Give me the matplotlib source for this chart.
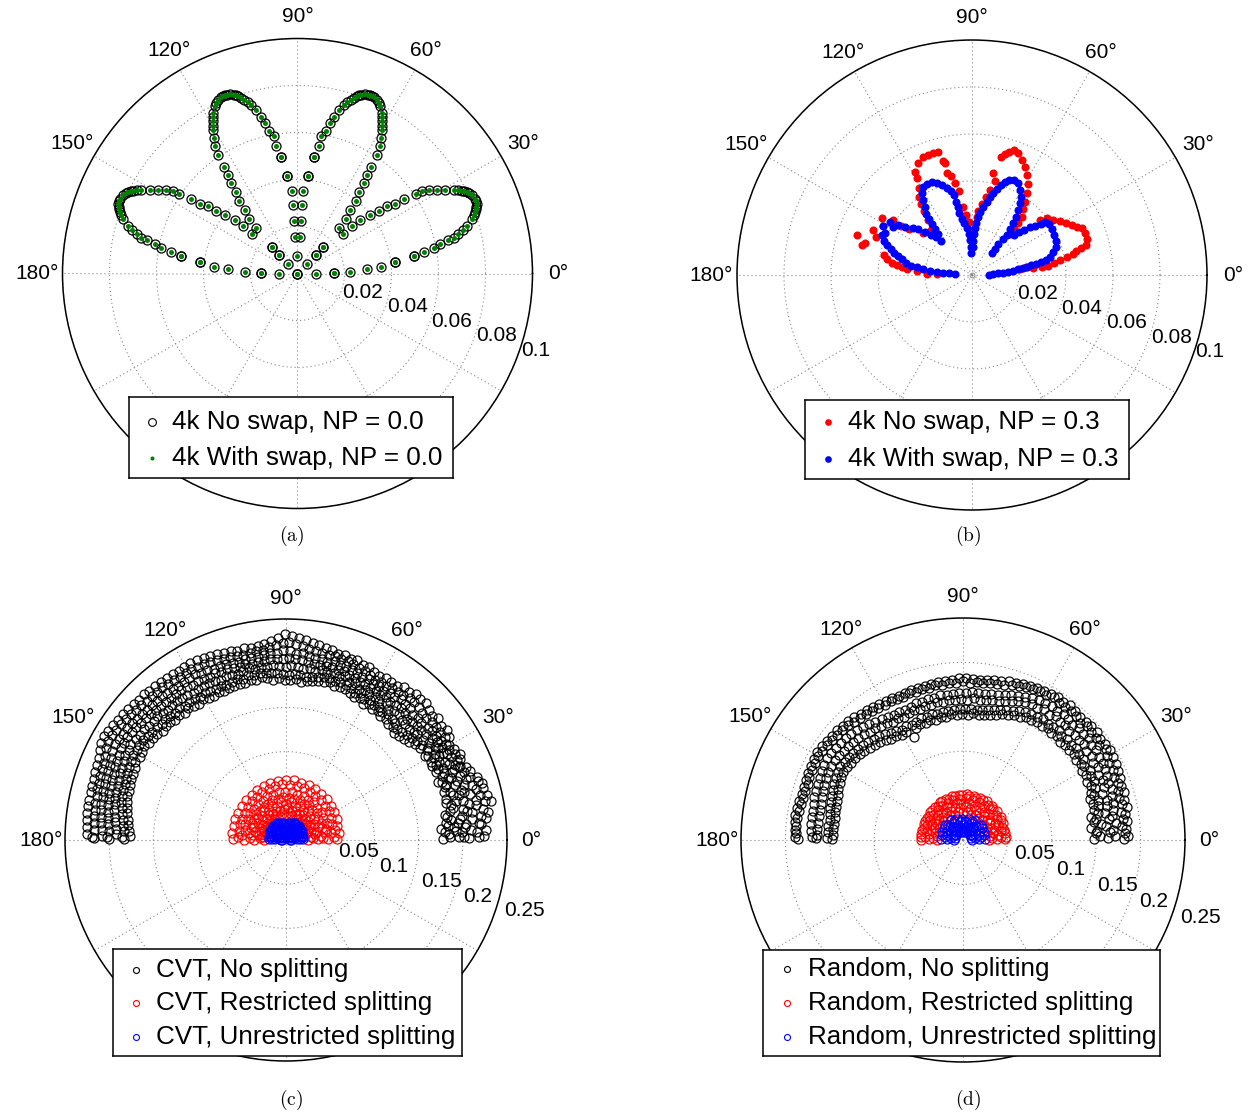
import numpy as np
import matplotlib
matplotlib.use('Agg')
import matplotlib.pyplot as plt
from matplotlib.transforms import offset_copy

plt.rcParams['font.family'] = ['Liberation Sans', 'DejaVu Sans']
plt.rcParams['mathtext.fontset'] = 'cm'

# ---------------- data ----------------
# (a) velocity-like components (x, y) in units of 1e-3
a_right = [
    (7.8, 0), (15.5, 0.4), (15.5, 0.4), (22.3, 0.8), (29.7, 1.8), (35.6, 2.8), (41.5, 4.7), (41.5, 4.7),
    (49.4, 7.5), (49.4, 7.5), (53.9, 9.3), (57.9, 11.0), (60.7, 12.4), (64.2, 14.1), (66.4, 15.2),
    (68.5, 16.9), (70.3, 18.4), (72.0, 20.2), (74.1, 23.0), (75.1, 25.1), (75.6, 26.2), (76.0, 27.3),
    (75.8, 28.5), (76.2, 29.7), (76.1, 30.8), (75.5, 31.9), (74.1, 33.6), (73.1, 34.2), (72.0, 34.7),
    (71.0, 35.0), (69.9, 35.3), (68.2, 35.5), (66.4, 35.7), (62.8, 35.7), (59.3, 35.7), (55.8, 35.7),
    (53.0, 35.0), (50.5, 33.9), (45.2, 31.5), (41.7, 29.7), (38.1, 28.7), (34.6, 26.8), (30.8, 24.7),
    (26.8, 22.6), (23.3, 20.2), (17.7, 19.5), (19.5, 16.9), (20.6, 23.4), (22.3, 27.1), (24.7, 30.8),
    (26.1, 34.6), (28.2, 38.5), (29.7, 42.1), (31.3, 45.2), (33.9, 50.5), (35.0, 54.1), (35.7, 57.6),
    (36.0, 61.1), (36.1, 62.9), (36.1, 64.7), (36.1, 66.5), (36.0, 68.2), (35.3, 71.4), (34.7, 72.6),
    (33.9, 73.8), (32.5, 75.3), (31.7, 75.7), (30.8, 76.0), (29.9, 76.1), (28.9, 76.2), (27.1, 76.0),
    (26.2, 75.9), (25.4, 75.7), (24.0, 74.8), (22.6, 73.8), (21.2, 72.9), (19.8, 71.7), (17.7, 69.6),
    (15.5, 66.8), (13.8, 64.0), (12.0, 60.7), (10.2, 58.3), (9.2, 54.1), (7.1, 49.4), (7.1, 49.4),
    (4.5, 41.4), (4.5, 41.4), (2.4, 35.3), (1.8, 29.1), (1.4, 22.3), (1.0, 15.5),
    (11.0, 11.4), (11.0, 11.4), (7.8, 7.9), (7.8, 7.9), (4.0, 4.0),
]
a_left = [
    (-7.8, 0), (-15.5, 0.4), (-15.5, 0.4), (-22.3, 0.8), (-29.7, 1.8), (-35.6, 2.8), (-41.5, 4.7), (-41.5, 4.7),
    (-49.4, 7.5), (-49.4, 7.5), (-53.9, 9.3), (-57.9, 11.0), (-60.7, 12.4), (-64.2, 14.1), (-66.4, 15.2),
    (-68.5, 16.9), (-70.3, 18.4), (-72.0, 20.2), (-74.1, 23.0), (-75.1, 25.1), (-75.6, 26.2), (-76.0, 27.3),
    (-75.8, 28.5), (-76.2, 29.7), (-76.1, 30.8), (-75.5, 31.9), (-74.1, 33.6), (-73.1, 34.2), (-72.0, 34.7),
    (-71.0, 35.0), (-69.9, 35.3), (-68.2, 35.5), (-66.4, 35.7), (-62.8, 35.7), (-59.3, 35.7), (-55.8, 35.7),
    (-53.0, 35.0), (-50.5, 33.9), (-45.2, 31.5), (-41.7, 29.7), (-38.1, 28.7), (-34.6, 26.8), (-30.8, 24.7),
    (-26.8, 22.6), (-23.3, 20.2), (-17.7, 19.5), (-19.5, 16.9), (-20.6, 23.4), (-22.3, 27.1), (-24.7, 30.8),
    (-26.1, 34.6), (-28.2, 38.5), (-29.7, 42.1), (-31.3, 45.2), (-33.9, 50.5), (-35.0, 54.1), (-35.7, 57.6),
    (-36.0, 61.1), (-36.1, 62.9), (-36.1, 64.7), (-36.1, 66.5), (-36.0, 68.2), (-35.3, 71.4), (-34.7, 72.6),
    (-33.9, 73.8), (-32.5, 75.3), (-31.7, 75.7), (-30.8, 76.0), (-29.9, 76.1), (-28.9, 76.2), (-27.1, 76.0),
    (-26.2, 75.9), (-25.4, 75.7), (-24.0, 74.8), (-22.6, 73.8), (-21.2, 72.9), (-19.8, 71.7), (-17.7, 69.6),
    (-15.5, 66.8), (-13.8, 64.0), (-12.0, 60.7), (-10.2, 58.3), (-9.2, 54.1), (-7.1, 49.4), (-7.1, 49.4),
    (-4.5, 41.4), (-4.5, 41.4), (-2.4, 35.3), (-1.8, 29.1), (-1.4, 22.3), (-1.0, 15.5),
    (-11.0, 11.4), (-11.0, 11.4), (-7.8, 7.9), (-7.8, 7.9), (-4.0, 4.0),
]
a_center = [(0, 7.5), (0, 0), (0, 0)]

# (b) components (x, y) in units of 1e-3
b_noswap = [
    (-48.8, 17.0), (-46.9, 12.8), (-45.5, 13.5), (-42.0, 19.1), (-40.8, 16.0), (-38.4, 24.4), (-38.0, 20.8),
    (-37.4, 8.5), (-36.0, 6.7), (-34.2, 5.2), (-32.0, 4.3), (-29.9, 3.5), (-27.5, 2.7), (-23.5, 1.8),
    (-19.3, 0.4), (-15.0, 0.4), (-33.5, 23.4), (-30.3, 20.8), (-26.7, 19.4), (-20.7, 18.0), (-18.6, 23.4),
    (-17.6, 19.1), (-23.5, 41.1), (-24.2, 44.0), (-22.8, 47.5), (-20.7, 50.1), (-18.6, 51.0), (-16.4, 51.8),
    (-14.3, 52.3), (-12.5, 48.6), (-11.5, 47.8), (-10.5, 43.5), (-9.1, 42.1), (-7.2, 39.3), (-5.4, 35.9),
    (-4.0, 28.8), (-2.6, 25.5), (-1.1, 22.7), (-0.2, 19.1), (-22.7, 36.9), (-22.5, 33.3), (-21.8, 30.2),
    (-20.4, 27.4), (9.1, 43.5), (9.8, 40.1), (12.2, 50.1), (14.0, 51.5), (15.9, 52.5), (17.9, 53.2),
    (19.7, 51.8), (21.1, 48.9), (22.5, 46.1), (23.3, 42.5), (24.0, 38.7), (23.3, 34.7), (22.7, 31.2),
    (21.8, 27.9), (21.1, 24.8), (19.7, 22.3), (17.9, 19.4), (16.2, 17.4), (7.7, 36.2), (6.0, 33.0),
    (4.1, 30.2), (2.7, 27.4), (2.0, 24.5), (1.3, 21.7), (28.9, 23.4), (31.8, 24.1), (34.6, 23.4),
    (37.4, 23.1), (40.0, 22.0), (42.4, 21.3), (44.5, 20.6), (46.7, 19.9), (48.1, 17.7), (48.8, 15.2),
    (48.5, 12.8), (46.2, 11.3), (44.2, 10.4), (42.8, 8.9), (40.6, 7.5), (37.4, 6.4), (34.9, 5.2),
    (32.5, 3.8), (29.6, 3.3), (26.1, 2.8), (23.0, 3.5), (20.4, 2.6),
]
b_swap = [
    (-38.0, 20.8), (-37.0, 17.7), (-34.9, 22.7), (-33.5, 20.3), (-31.3, 21.3), (-28.5, 20.6), (-25.2, 19.9),
    (-22.8, 19.4), (-20.0, 18.4), (-17.6, 17.0), (-15.3, 16.0), (-13.3, 14.6), (-38.4, 17.0), (-37.4, 14.6),
    (-36.0, 12.6), (-34.6, 10.9), (-33.0, 9.5), (-31.5, 8.1), (-29.8, 6.7), (-28.1, 5.2), (-26.1, 4.0),
    (-23.3, 3.5), (-20.7, 2.4), (-17.9, 1.8), (-15.0, 1.4), (-12.2, 1.0), (-9.6, 0.7), (-7.4, 0.3),
    (-19.6, 25.9), (-18.4, 24.0), (-17.2, 21.7), (-15.7, 19.7), (-14.5, 17.4),
    (-21.0, 37.3), (-19.3, 38.7), (-17.2, 39.6), (-15.0, 39.3), (-12.9, 38.3), (-10.8, 36.9), (-9.1, 35.6),
    (-7.7, 34.0), (-6.9, 31.2), (-6.1, 28.8), (-5.4, 26.2), (-4.4, 24.0), (-3.4, 22.0), (-2.3, 19.9),
    (-1.4, 17.4), (-0.9, 14.9), (-0.6, 12.1), (-0.3, 9.2), (-21.3, 34.7), (-20.7, 31.9), (-20.1, 28.8),
    (14.0, 39.6), (15.9, 40.4), (17.9, 40.4), (19.7, 39.0), (20.4, 36.2), (21.0, 33.3), (20.4, 30.5),
    (19.6, 27.7), (18.7, 24.8), (17.6, 22.0), (16.2, 19.4), (14.7, 17.0), (13.0, 15.2), (11.2, 13.2),
    (9.8, 11.2), (8.5, 9.2), (12.5, 38.1), (10.5, 36.7), (9.1, 35.0), (7.7, 33.0), (6.2, 31.1),
    (4.8, 29.1), (3.5, 26.8), (2.6, 24.5), (1.7, 22.3), (1.1, 19.9), (0.7, 17.4), (0.6, 14.6), (0.3, 11.8),
    (17.9, 17.0), (19.9, 18.3), (22.1, 19.3), (24.7, 20.3), (26.9, 21.0), (29.2, 21.8), (31.2, 22.5),
    (32.6, 21.7), (33.9, 19.7), (34.9, 17.0), (35.6, 14.3), (35.9, 11.8), (34.6, 9.8), (33.2, 7.8),
    (31.5, 6.4), (29.2, 5.5), (27.2, 4.8), (25.2, 4.1), (23.3, 3.5), (21.6, 2.8), (19.6, 2.4), (17.6, 1.8),
    (15.5, 1.4), (13.3, 1.0), (11.2, 0.7), (9.1, 0.4), (7.1, 0.0),
]

# (c) points as (angle in degrees, radius)
c_none = [
    (0.4, .178), (0.9, .196), (0.6, .207), (1.2, .224), (2.1, .185), (2.6, .199), (2.3, .216), (2.9, .227),
    (4.0, .176), (4.4, .191), (4.1, .203), (4.7, .221), (6.0, .182), (5.6, .196), (6.3, .212), (6.2, .228),
    (8.1, .184), (7.7, .201), (8.4, .213), (8.0, .231), (10.2, .188), (9.8, .203), (10.5, .219), (10.9, .236),
    (12.1, .191), (12.5, .205), (11.8, .220), (12.6, .233), (14.2, .187), (14.6, .202), (14.0, .214), (14.8, .230),
    (16.3, .193), (16.0, .206), (16.6, .219), (16.1, .231), (18.4, .189), (18.0, .201), (18.7, .215), (18.2, .227),
    (20.3, .188), (20.7, .200), (20.1, .210), (20.6, .222), (22.4, .191), (22.1, .203), (22.8, .212), (22.2, .220),
    (24.3, .186), (24.7, .196), (24.1, .209), (24.9, .217), (26.5, .190), (26.1, .200), (26.8, .209), (26.3, .219),
    (28.4, .186), (28.8, .198), (28.2, .207), (28.6, .216), (30.5, .187), (30.1, .195), (30.8, .206), (30.3, .214),
    (32.4, .189), (32.0, .199), (32.7, .208), (32.2, .218), (34.5, .184), (34.1, .196), (34.8, .207), (34.3, .220),
    (36.6, .182), (36.2, .192), (36.9, .206), (36.4, .218), (38.5, .178), (38.9, .191), (38.3, .204), (38.7, .220),
    (40.6, .176), (40.2, .190), (40.9, .202), (40.4, .217), (42.5, .174), (42.1, .187), (42.8, .203), (42.3, .219),
    (44.6, .172), (44.2, .188), (44.9, .201), (44.4, .221), (46.5, .176), (46.1, .189), (46.8, .205), (46.3, .220),
    (48.6, .175), (48.2, .191), (48.9, .204), (48.4, .221), (50.5, .178), (50.1, .190), (50.8, .206), (50.3, .217),
    (52.6, .176), (52.2, .188), (52.9, .203), (52.4, .218), (54.5, .179), (54.1, .192), (54.8, .204), (54.3, .215),
    (56.6, .177), (56.2, .189), (56.9, .201), (56.4, .214), (58.5, .180), (58.1, .191), (58.8, .204), (58.3, .215),
    (60.6, .177), (60.2, .190), (60.9, .202), (60.4, .213), (62.5, .181), (62.1, .192), (62.8, .205), (62.3, .215),
    (64.6, .179), (64.2, .190), (64.9, .203), (64.4, .217), (66.5, .181), (66.1, .194), (66.8, .205), (66.3, .216),
    (68.6, .183), (68.2, .193), (68.9, .206), (68.4, .219), (70.5, .184), (70.1, .197), (70.8, .208), (70.3, .218),
    (72.6, .183), (72.2, .195), (72.9, .207), (72.4, .220), (74.5, .186), (74.1, .197), (74.8, .210), (74.3, .219),
    (76.6, .184), (76.2, .196), (76.9, .207), (76.4, .221), (78.5, .183), (78.1, .197), (78.8, .209), (78.3, .222),
    (80.6, .182), (80.2, .194), (80.9, .209), (80.4, .224), (82.5, .181), (82.1, .196), (82.8, .210), (82.3, .225),
    (84.6, .180), (84.2, .194), (84.9, .212), (84.4, .227), (86.5, .182), (86.1, .196), (86.8, .211), (86.3, .229),
    (88.6, .181), (88.2, .198), (88.9, .214), (88.4, .231), (90.5, .181), (90.1, .196), (90.8, .215), (90.3, .233),
    (92.6, .183), (92.2, .197), (92.9, .212), (92.4, .229), (94.5, .182), (94.1, .199), (94.8, .212), (94.3, .226),
    (96.6, .184), (96.2, .197), (96.9, .211), (96.4, .223), (98.5, .186), (98.1, .198), (98.8, .209), (98.3, .222),
    (100.6, .184), (100.2, .196), (100.9, .210), (100.4, .221), (102.5, .185), (102.1, .199), (102.8, .210), (102.3, .222),
    (104.6, .183), (104.2, .197), (104.9, .208), (104.4, .221), (106.5, .184), (106.1, .196), (106.8, .209), (106.3, .223),
    (108.6, .184), (108.2, .197), (108.9, .211), (108.4, .223), (110.5, .183), (110.1, .198), (110.8, .211), (110.3, .224),
    (112.6, .182), (112.2, .196), (112.9, .210), (112.4, .225), (114.5, .184), (114.1, .197), (114.8, .212), (114.3, .226),
    (116.6, .182), (116.2, .198), (116.9, .212), (116.4, .227), (118.5, .183), (118.1, .197), (118.8, .214), (118.3, .228),
    (120.6, .185), (120.2, .198), (120.9, .213), (120.4, .227), (122.5, .183), (122.1, .196), (122.8, .212), (122.3, .226),
    (124.6, .184), (124.2, .199), (124.9, .213), (124.4, .227), (126.5, .186), (126.1, .199), (126.8, .214), (126.3, .228),
    (128.6, .184), (128.2, .200), (128.9, .214), (128.4, .228), (130.5, .186), (130.1, .200), (130.8, .215), (130.3, .229),
    (132.6, .185), (132.2, .199), (132.9, .214), (132.4, .229), (134.5, .187), (134.1, .200), (134.8, .215), (134.3, .230),
    (136.6, .187), (136.2, .202), (136.9, .215), (136.4, .230), (138.5, .186), (138.1, .201), (138.8, .217), (138.3, .231),
    (140.6, .189), (140.2, .202), (140.9, .217), (140.4, .232), (142.5, .189), (142.1, .204), (142.8, .218), (142.3, .233),
    (144.6, .190), (144.2, .204), (144.9, .220), (144.4, .234), (146.5, .192), (146.1, .205), (146.8, .220), (146.3, .235),
    (148.6, .191), (148.2, .207), (148.9, .221), (148.4, .236), (150.5, .190), (150.1, .205), (150.8, .222), (150.3, .237),
    (152.6, .192), (152.2, .206), (152.9, .221), (152.4, .236), (154.5, .189), (154.1, .204), (154.8, .219), (154.3, .234),
    (156.6, .189), (156.2, .203), (156.9, .217), (156.4, .231), (158.5, .188), (158.1, .202), (158.8, .216), (158.3, .230),
    (160.6, .187), (160.2, .201), (160.9, .215), (160.4, .229), (162.5, .186), (162.1, .200), (162.8, .214), (162.3, .228),
    (164.6, .187), (164.2, .200), (164.9, .214), (164.4, .228), (166.5, .185), (166.1, .199), (166.8, .213), (166.3, .227),
    (168.6, .184), (168.2, .198), (168.9, .213), (168.4, .227), (170.5, .182), (170.1, .197), (170.8, .212), (170.3, .227),
    (172.6, .180), (172.2, .195), (172.9, .211), (172.4, .227), (174.5, .179), (174.1, .194), (174.8, .210), (174.3, .226),
    (176.6, .178), (176.2, .193), (176.9, .209), (176.4, .226), (178.5, .177), (178.1, .192), (178.8, .208), (178.3, .225),
    (179.6, .183), (179.8, .200), (179.5, .217),
]
# further (c) points, one angle (degrees) and several radii per row
c_none_rows = [
    (1, .186, .201, .218), (3, .180, .193, .210), (5, .184, .204, .219), (7, .188, .198, .222), (9, .182, .207, .226),
    (11, .192, .211, .229), (13, .186, .197, .225), (15, .195, .209, .223), (17, .187, .211, .227), (19, .192, .205, .220),
    (21, .184, .196, .216), (23, .194, .207, .214), (25, .190, .203, .213), (27, .185, .194, .214), (29, .191, .203, .211),
    (31, .184, .201, .211), (33, .192, .204, .214), (35, .188, .201, .213), (37, .186, .199, .212), (39, .183, .197, .212),
    (41, .181, .196, .210), (43, .179, .195, .211), (45, .178, .193, .212), (47, .181, .197, .213), (49, .182, .198, .213),
    (51, .183, .197, .211), (53, .181, .196, .210), (55, .184, .197, .210), (57, .182, .195, .208), (59, .185, .197, .209),
    (61, .183, .196, .207), (63, .186, .198, .210), (65, .184, .197, .211), (67, .187, .199, .211), (69, .188, .200, .213),
    (71, .189, .202, .214), (73, .188, .201, .214), (75, .190, .203, .215), (77, .189, .202, .215), (79, .188, .202, .216),
    (81, .187, .202, .217), (83, .186, .203, .218), (85, .187, .204, .220), (87, .188, .205, .222), (89, .187, .206, .224),
    (91, .188, .205, .223), (93, .189, .205, .221), (95, .190, .205, .219), (97, .190, .204, .217), (99, .191, .204, .216),
    (101, .190, .203, .216), (103, .191, .204, .215), (105, .189, .203, .215), (107, .190, .203, .216), (109, .189, .204, .217),
    (111, .188, .204, .218), (113, .189, .205, .219), (115, .188, .204, .220), (117, .189, .205, .220), (119, .190, .206, .221),
    (121, .189, .205, .220), (123, .190, .206, .220), (125, .191, .207, .221), (127, .190, .207, .221), (129, .192, .207, .222),
    (131, .191, .207, .222), (133, .192, .208, .222), (135, .193, .208, .223), (137, .192, .209, .224), (139, .194, .210, .225),
    (141, .195, .211, .226), (143, .196, .212, .227), (145, .197, .213, .228), (147, .198, .214, .229), (149, .197, .214, .230),
    (151, .198, .214, .230), (153, .197, .212, .228), (155, .196, .211, .226), (157, .195, .210, .224), (159, .194, .209, .223),
    (161, .193, .208, .222), (163, .193, .207, .221), (165, .192, .207, .221), (167, .191, .206, .220), (169, .189, .205, .220),
    (171, .188, .204, .219), (173, .186, .203, .219), (175, .185, .202, .218), (177, .184, .201, .218), (179, .185, .202, .219),
]
c_restricted = [
    (0.5, .025), (1.2, .036), (0.8, .047), (1.5, .058), (7.8, .028), (7.2, .040), (8.3, .051), (7.6, .061),
    (15.2, .024), (14.6, .035), (15.9, .047), (15.1, .060), (22.7, .027), (22.1, .039), (23.3, .050), (22.5, .062),
    (30.1, .025), (29.6, .037), (30.8, .049), (30.2, .063), (37.6, .028), (37.0, .040), (38.2, .052), (37.5, .064),
    (45.2, .026), (44.7, .038), (45.8, .050), (45.0, .065), (52.6, .029), (52.1, .041), (53.3, .053), (52.7, .066),
    (60.1, .027), (59.6, .039), (60.7, .052), (60.2, .066), (67.7, .030), (67.1, .042), (68.2, .054), (67.5, .067),
    (75.1, .028), (74.6, .040), (75.8, .053), (75.2, .067), (82.6, .031), (82.0, .043), (83.2, .055), (82.5, .068),
    (90.2, .029), (89.6, .041), (90.7, .054), (90.1, .068), (97.7, .030), (97.1, .043), (98.3, .055), (97.5, .067),
    (105.1, .028), (104.6, .040), (105.7, .053), (105.2, .067), (112.6, .029), (112.0, .042), (113.2, .054), (112.5, .066),
    (120.2, .027), (119.6, .039), (120.8, .051), (120.1, .065), (127.6, .028), (127.1, .041), (128.3, .052), (127.5, .064),
    (135.1, .026), (134.5, .038), (135.8, .050), (135.2, .064), (142.7, .027), (142.1, .040), (143.2, .051), (142.5, .063),
    (150.2, .025), (149.6, .037), (150.8, .049), (150.1, .062), (157.6, .027), (157.1, .039), (158.3, .050), (157.5, .062),
    (165.1, .024), (164.6, .036), (165.7, .048), (165.2, .061), (172.6, .026), (172.0, .038), (173.2, .050), (172.5, .062),
    (179.6, .025), (179.2, .036), (179.5, .048), (179.1, .060),
]
c_restricted_rows = [
    (3.8, .031, .042, .054), (11.3, .033, .045, .056), (18.8, .030, .043, .055), (26.3, .032, .044, .057),
    (33.8, .031, .043, .058), (41.3, .033, .046, .059), (48.8, .032, .045, .060), (56.3, .034, .047, .060),
    (63.8, .033, .046, .061), (71.3, .035, .048, .062), (78.8, .034, .047, .062), (86.3, .036, .048, .062),
    (93.8, .035, .049, .063), (101.3, .034, .047, .062), (108.8, .035, .048, .061), (116.3, .033, .046, .060),
    (123.8, .034, .045, .059), (131.3, .032, .044, .058), (138.8, .033, .045, .057), (146.3, .031, .043, .056),
    (153.8, .032, .043, .055), (161.3, .030, .042, .055), (168.8, .031, .043, .054), (176.3, .030, .041, .054),
]
c_unrestricted = [
    (2, .006), (3, .013), (4, .019), (20, .008), (18, .015), (22, .020), (38, .006), (36, .014), (40, .021),
    (55, .009), (52, .016), (58, .022), (72, .007), (70, .014), (75, .020), (90, .008), (88, .013), (92, .018),
    (108, .007), (110, .014), (105, .020), (125, .009), (128, .016), (122, .022), (142, .006), (144, .014),
    (140, .021), (160, .008), (162, .015), (158, .020), (177, .006), (176, .013), (178, .019),
]
c_unrestricted_rows = [
    (10, .010, .017, .020), (29, .011, .018, .021), (47, .012, .019, .022), (63, .011, .020, .022),
    (81, .010, .016, .019), (99, .011, .016, .019), (117, .010, .020, .022), (133, .012, .019, .022),
    (151, .011, .018, .021), (170, .010, .017, .020), (6, .004, .016), (14, .012, .019), (26, .005, .016),
    (33, .013, .020), (44, .009, .017), (50, .004, .020), (60, .013, .018), (66, .006, .021), (78, .011, .017),
    (85, .005, .015), (95, .005, .015), (102, .011, .017), (114, .006, .021), (120, .013, .018),
    (130, .004, .020), (136, .009, .017), (147, .013, .020), (154, .005, .016), (166, .012, .019), (174, .004, .016),
]

# (d) points as (angle in degrees, radius)
d_none = [
    (0.3, .147), (0.9, .163), (0.5, .181), (2.8, .150), (3.2, .166), (2.6, .183), (5.3, .145), (5.7, .162), (5.1, .180),
    (7.8, .149), (8.2, .166), (7.6, .182), (10.3, .147), (10.7, .163), (10.1, .181), (12.8, .151), (13.2, .167), (12.6, .184),
    (15.3, .152), (15.7, .168), (15.1, .182), (17.8, .150), (18.2, .165), (17.6, .183), (20.3, .154), (20.7, .170), (20.1, .186),
    (22.8, .156), (23.2, .171), (22.6, .184), (25.3, .154), (25.7, .169), (25.1, .187), (27.8, .157), (28.2, .173), (27.6, .186),
    (30.3, .155), (30.7, .170), (30.1, .188), (32.8, .158), (33.2, .173), (32.6, .191), (35.3, .156), (35.7, .171), (35.1, .187),
    (37.8, .158), (38.2, .174), (37.6, .189), (40.3, .156), (40.7, .172), (40.1, .188), (42.8, .157), (43.2, .173), (42.6, .190),
    (45.3, .155), (45.7, .171), (45.1, .186), (47.8, .158), (48.2, .173), (47.6, .189), (50.3, .156), (50.7, .172), (50.1, .190),
    (52.8, .158), (53.2, .175), (52.6, .189), (55.3, .156), (55.7, .171), (55.1, .188), (57.8, .157), (58.2, .173), (57.6, .191),
    (60.3, .155), (60.7, .171), (60.1, .188), (62.8, .156), (63.2, .172), (62.6, .189), (65.3, .153), (65.7, .170), (65.1, .187),
    (67.8, .152), (68.2, .168), (67.6, .186), (70.3, .150), (70.7, .166), (70.1, .184), (72.8, .148), (73.2, .164), (72.6, .183),
    (75.3, .146), (75.7, .162), (75.1, .181), (77.8, .144), (78.2, .161), (77.6, .180), (80.3, .143), (80.7, .160), (80.1, .179),
    (82.8, .142), (83.2, .159), (82.6, .178), (85.3, .143), (85.7, .160), (85.1, .179), (87.8, .141), (88.2, .158), (87.6, .177),
    (90.3, .142), (90.7, .159), (90.1, .179), (92.8, .141), (93.2, .158), (92.6, .177), (95.3, .142), (95.7, .159), (95.1, .178),
    (97.8, .140), (98.2, .157), (97.6, .176), (100.3, .141), (100.7, .158), (100.1, .177), (102.8, .139), (103.2, .156), (102.6, .175),
    (105.3, .140), (105.7, .157), (105.1, .176), (107.8, .138), (108.2, .155), (107.6, .175), (110.3, .139), (110.7, .156), (110.1, .176),
    (112.8, .137), (113.2, .155), (112.6, .175), (115.3, .128), (115.7, .154), (115.1, .175), (117.8, .138), (118.2, .156), (117.6, .176),
    (120.3, .137), (120.7, .155), (120.1, .176), (122.8, .139), (123.2, .157), (122.6, .177), (125.3, .140), (125.7, .158), (125.1, .178),
    (127.8, .142), (128.2, .160), (127.6, .179), (130.3, .144), (130.7, .161), (130.1, .180), (132.8, .146), (133.2, .163), (132.6, .181),
    (135.3, .148), (135.7, .165), (135.1, .183), (137.8, .150), (138.2, .166), (137.6, .184), (140.3, .151), (140.7, .167), (140.1, .185),
    (142.8, .152), (143.2, .168), (142.6, .186), (145.3, .153), (145.7, .169), (145.1, .187), (147.8, .154), (148.2, .170), (147.6, .188),
    (150.3, .155), (150.7, .171), (150.1, .189), (152.8, .154), (153.2, .170), (152.6, .188), (155.3, .153), (155.7, .169), (155.1, .187),
    (157.8, .152), (158.2, .168), (157.6, .187), (160.3, .150), (160.7, .167), (160.1, .186), (162.8, .149), (163.2, .166), (162.6, .186),
    (165.3, .148), (165.7, .165), (165.1, .186), (167.8, .147), (168.2, .164), (167.6, .187), (170.3, .146), (170.7, .164), (170.1, .188),
    (172.8, .146), (173.2, .164), (172.6, .188), (175.3, .147), (175.7, .165), (175.1, .189), (177.8, .146), (178.2, .164), (177.6, .188),
    (179.6, .148), (179.4, .166), (179.8, .186),
]
d_none_rows = [
    (1.5, .154, .171, .186), (4.0, .151, .169, .184), (6.5, .156, .173, .186), (9.0, .152, .170, .185), (11.5, .155, .172, .188),
    (14.0, .157, .174, .187), (16.5, .158, .175, .189), (19.0, .156, .177, .188), (21.5, .160, .175, .190), (24.0, .162, .178, .191),
    (26.5, .161, .179, .192), (29.0, .163, .180, .193), (31.5, .160, .179, .194), (34.0, .163, .181, .193), (36.5, .162, .180, .192),
    (39.0, .164, .182, .194), (41.5, .162, .180, .193), (44.0, .163, .181, .192), (46.5, .161, .179, .191), (49.0, .164, .181, .193),
    (51.5, .163, .182, .194), (54.0, .162, .180, .192), (56.5, .164, .181, .193), (59.0, .162, .180, .192), (61.5, .161, .179, .191),
    (64.0, .160, .178, .190), (66.5, .158, .176, .189), (69.0, .156, .174, .188), (71.5, .154, .172, .187), (74.0, .152, .170, .186),
    (76.5, .150, .168, .184), (79.0, .149, .167, .183), (81.5, .148, .166, .182), (84.0, .147, .166, .181), (86.5, .148, .167, .182),
    (89.0, .147, .166, .183), (91.5, .148, .166, .182), (94.0, .147, .165, .181), (96.5, .146, .164, .180), (99.0, .146, .165, .180),
    (101.5, .145, .163, .179), (104.0, .146, .164, .179), (106.5, .144, .162, .178), (109.0, .145, .163, .179), (111.5, .143, .161, .178),
    (114.0, .142, .160, .178), (116.5, .143, .161, .179), (119.0, .142, .161, .179), (121.5, .144, .162, .180), (124.0, .146, .164, .181),
    (126.5, .148, .166, .182), (129.0, .150, .168, .183), (131.5, .152, .170, .185), (134.0, .154, .172, .186), (136.5, .156, .174, .187),
    (139.0, .157, .175, .188), (141.5, .158, .176, .189), (144.0, .159, .177, .190), (146.5, .160, .178, .191), (149.0, .161, .179, .192),
    (151.5, .160, .178, .191), (154.0, .159, .177, .190), (156.5, .158, .176, .190), (159.0, .157, .175, .189), (161.5, .156, .174, .189),
    (164.0, .155, .174, .189), (166.5, .154, .173, .190), (169.0, .153, .172, .190), (171.5, .152, .172, .191), (174.0, .153, .172, .190),
    (176.5, .152, .171, .190), (179.0, .153, .170, .189),
]
d_restricted = [
    (0.6, .029), (1.1, .038), (0.8, .047), (9.2, .031), (8.6, .040), (9.7, .048), (18.1, .028), (17.5, .037), (18.6, .046),
    (27.2, .030), (26.6, .040), (27.8, .048), (36.1, .029), (35.5, .038), (36.7, .047), (45.2, .031), (44.6, .041), (45.8, .049),
    (54.1, .030), (53.5, .039), (54.7, .048), (63.2, .032), (62.6, .041), (63.8, .050), (72.1, .030), (71.5, .040), (72.7, .049),
    (81.2, .032), (80.6, .042), (81.8, .050), (90.1, .031), (89.5, .041), (90.7, .051), (99.2, .032), (98.6, .042), (99.8, .050),
    (108.1, .030), (107.5, .040), (108.7, .049), (117.2, .031), (116.6, .041), (117.8, .050), (126.1, .030), (125.5, .039), (126.7, .048),
    (135.2, .031), (134.6, .040), (135.8, .049), (144.1, .029), (143.5, .038), (144.7, .047), (153.2, .030), (152.6, .039), (153.8, .048),
    (162.1, .028), (161.5, .037), (162.7, .046), (171.2, .030), (170.6, .039), (171.8, .048), (179.4, .029), (179.0, .038), (179.6, .047),
]
d_restricted_rows = [
    (4.5, .033, .043, .049), (13.5, .035, .044, .048), (22.5, .034, .043, .049), (31.5, .036, .045, .050),
    (40.5, .035, .044, .050), (49.5, .036, .046, .051), (58.5, .035, .045, .051), (67.5, .037, .046, .051),
    (76.5, .036, .046, .051), (85.5, .037, .047, .052), (94.5, .036, .046, .051), (103.5, .037, .046, .051),
    (112.5, .035, .045, .050), (121.5, .036, .045, .050), (130.5, .034, .044, .049), (139.5, .035, .044, .049),
    (148.5, .034, .043, .048), (157.5, .035, .044, .048), (166.5, .033, .042, .048), (175.5, .034, .043, .048),
]
d_unrestricted = [
    (3, .010), (4, .018), (2, .025), (20, .012), (18, .019), (22, .025), (38, .010), (36, .017), (40, .026),
    (55, .012), (52, .019), (58, .026), (72, .010), (70, .018), (75, .025), (90, .011), (88, .017), (92, .024),
    (108, .010), (110, .018), (105, .025), (125, .012), (128, .019), (122, .026), (142, .010), (144, .017),
    (140, .026), (160, .012), (162, .019), (158, .025), (177, .010), (176, .018), (178, .025),
]
d_unrestricted_rows = [
    (10, .014, .021), (29, .015, .022), (47, .014, .022), (63, .015, .021), (81, .014, .020),
    (99, .014, .020), (117, .015, .022), (133, .014, .022), (151, .015, .021), (170, .014, .021),
    (14, .009, .024), (33, .011, .025), (44, .016, .024), (66, .012, .024), (85, .009, .022),
    (96, .009, .022), (114, .012, .024), (136, .016, .024), (147, .011, .025), (166, .009, .024),
]

ab_rticks = [0.02, 0.04, 0.06, 0.08, 0.1]
ab_rlabels = ['0.02', '0.04', '0.06', '0.08', '0.1']
cd_rticks = [0.05, 0.1, 0.15, 0.2, 0.25]
cd_rlabels = ['0.05', '0.1', '0.15', '0.2', '0.25']
angle_labels = [0, 30, 60, 90, 120, 150, 180]

leg_a = ['4k No swap, NP = 0.0', '4k With swap, NP = 0.0']
leg_b = ['4k No swap, NP = 0.3', '4k With swap, NP = 0.3']
leg_c = ['CVT, No splitting', 'CVT, Restricted splitting', 'CVT, Unrestricted splitting']
leg_d = ['Random, No splitting', 'Random, Restricted splitting', 'Random, Unrestricted splitting']

# ---------------- drawing ----------------
W, H = 1250, 1116
fig = plt.figure(figsize=(W / 100, H / 100), dpi=100)


def xy_to_polar(pts):
    p = np.asarray(pts, dtype=float) * 1e-3
    return np.arctan2(p[:, 1], p[:, 0]), np.hypot(p[:, 0], p[:, 1])


def deg_to_polar(pts, rows=()):
    allpts = list(pts) + [(row[0], rr) for row in rows for rr in row[1:]]
    p = np.asarray(allpts, dtype=float)
    return np.deg2rad(p[:, 0]), p[:, 1]


def polar_panel(cx, cy, R, rticks, rlabels, lab_ang, lab_off):
    rmax = rticks[-1]
    ax = fig.add_axes([(cx - R) / W, 1 - (cy + R) / H, 2 * R / W, 2 * R / H], projection='polar')
    ax.set_ylim(0, rmax)
    ax.set_yticks(rticks)
    ax.set_yticklabels([])
    ax.set_xticks(np.deg2rad(np.arange(0, 360, 30)))
    ax.set_xticklabels([])
    ax.tick_params(length=0)
    ax.grid(True, color='#888888', linestyle=(0, (1, 2.6)), linewidth=0.8)
    ax.spines['polar'].set_linewidth(1.1)
    ax.spines['polar'].set_color('black')
    for a in angle_labels:
        rr = rmax * (1.095 if a in (60, 90, 120) else 1.11)
        ax.text(np.deg2rad(a), rr, f'{a}°', ha='center', va='center',
                fontsize=15, clip_on=False)
    tr = offset_copy(ax.transData, fig=fig, x=lab_off[0], y=lab_off[1], units='dots')
    for rv, lab in zip(rticks, rlabels):
        ax.text(np.deg2rad(lab_ang), rv, lab, transform=tr, ha='left', va='center',
                fontsize=15, clip_on=False)
    return ax


def legend_box(x0, y0, x1, y1, rows, mx, tx, handles, labels):
    lax = fig.add_axes([x0 / W, 1 - y1 / H, (x1 - x0) / W, (y1 - y0) / H])
    lax.set_xlim(0, x1 - x0)
    lax.set_ylim(y1 - y0, 0)
    lax.set_xticks([])
    lax.set_yticks([])
    lax.set_facecolor('white')
    for s in lax.spines.values():
        s.set_linewidth(1.1)
        s.set_color('black')
    for ry, hd, lab in zip(rows, handles, labels):
        lax.plot([mx - x0], [ry - y0], linestyle='none', **hd)
        lax.text(tx - x0, ry - y0, lab, ha='left', va='center', fontsize=18.7)


# (a)
ax = polar_panel(297.5, 273.5, 235, ab_rticks, ab_rlabels, -18, (0, -4))
th, r = xy_to_polar(a_right + a_left + a_center)
ax.plot(th, r, linestyle='none', marker='o', ms=6.5, mfc='none', mec='black', mew=0.9)
ax.plot(th, r, linestyle='none', marker='o', ms=3.6, mfc='#008000', mec='#008000', mew=0)

# (b)
ax = polar_panel(972, 275, 235, ab_rticks, ab_rlabels, -18, (0, -4))
th, r = xy_to_polar(b_noswap)
ax.plot(th, r, linestyle='none', marker='o', ms=5.8, mfc='red', mec='red', mew=0)
th, r = xy_to_polar(b_swap)
ax.plot(th, r, linestyle='none', marker='o', ms=5.8, mfc='blue', mec='blue', mew=0)
ax.plot([0], [0], linestyle='none', marker='o', ms=3.5, mfc='none', mec='#777777', mew=0.6)

# (c)
ax = polar_panel(286, 840, 221, cd_rticks, cd_rlabels, -19.5, (10, 3))
for pts, rows, col in [(c_none, c_none_rows, 'black'), (c_restricted, c_restricted_rows, 'red'),
                       (c_unrestricted, c_unrestricted_rows, 'blue')]:
    th, r = deg_to_polar(pts, rows)
    ax.plot(th, r, linestyle='none', marker='o', ms=6.5, mfc='none', mec=col, mew=0.85)

# (d)
ax = polar_panel(963, 840, 222, cd_rticks, cd_rlabels, -21, (10, 2))
for pts, rows, col in [(d_none, d_none_rows, 'black'), (d_restricted, d_restricted_rows, 'red'),
                       (d_unrestricted, d_unrestricted_rows, 'blue')]:
    th, r = deg_to_polar(pts, rows)
    ax.plot(th, r, linestyle='none', marker='o', ms=6.5, mfc='none', mec=col, mew=0.85)

# legends
legend_box(129.3, 396.7, 452.7, 478.3, [421.7, 458], 151.7, 171.7,
           [dict(marker='o', ms=5.6, mfc='none', mec='black', mew=0.8),
            dict(marker='o', ms=2.9, mfc='#008000', mec='#008000', mew=0)], leg_a)
legend_box(805, 400, 1129, 479, [421.7, 459], 828, 848.3,
           [dict(marker='o', ms=4.8, mfc='red', mec='red', mew=0),
            dict(marker='o', ms=4.8, mfc='blue', mec='blue', mew=0)], leg_b)
legend_box(112.7, 949.3, 461.7, 1055.7, [970, 1003.3, 1036.7], 136, 156,
           [dict(marker='o', ms=4.3, mfc='none', mec=c, mew=0.8) for c in ['black', 'red', 'blue']], leg_c)
legend_box(763.3, 950, 1160, 1056, [969.3, 1003.3, 1036.7], 786.7, 807.7,
           [dict(marker='o', ms=4.3, mfc='none', mec=c, mew=0.8) for c in ['black', 'red', 'blue']], leg_d)

# captions
for txt, x, y in [('(a)', 292, 536), ('(b)', 968, 536), ('(c)', 291, 1100), ('(d)', 968, 1100)]:
    fig.text(x / W, 1 - y / H, r'$\mathrm{' + txt + '}$', ha='center', va='center', fontsize=14)

fig.savefig('out.png', dpi=100)
